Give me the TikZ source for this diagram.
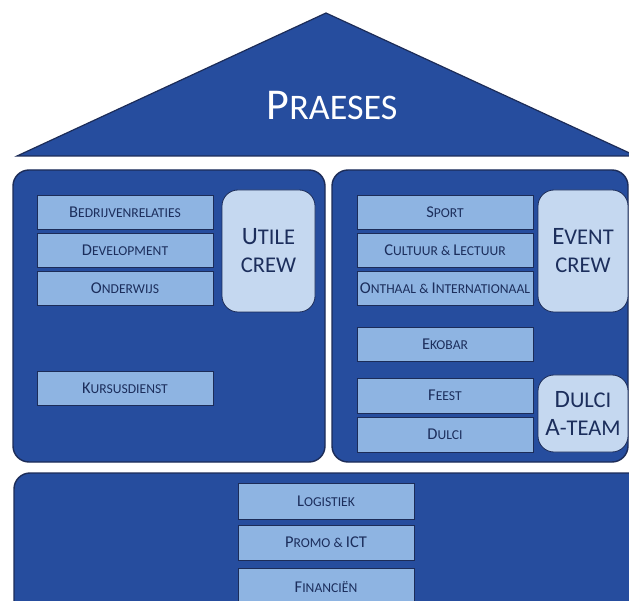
\documentclass[tikz,border=0pt]{standalone}
\usepackage{fontspec}
\setmainfont{Carlito}
\definecolor{panel}{RGB}{38,77,158}
\definecolor{edge}{RGB}{28,44,88}
\definecolor{boxfill}{RGB}{142,180,226}
\definecolor{crewfill}{RGB}{197,216,240}
\definecolor{navy}{RGB}{28,46,92}
\def\lcsz{11}
\newcommand\lc[1]{{\fontsize{\lcsz}{\lcsz}\selectfont #1}}
\tikzset{
  panelbox/.style={draw=edge, line width=1.4pt, fill=panel, rounded corners=16pt, inner sep=0pt},
  unitbox/.style={draw=edge, line width=0.8pt, fill=boxfill, inner sep=0pt,
    minimum width=176pt, minimum height=34pt, text=navy,
    font=\fontsize{16.5}{18}\selectfont\def\lcsz{13.6}},
  crewbox/.style={draw=edge, line width=0.8pt, fill=crewfill, rounded corners=16pt, inner sep=0pt,
    align=center, text=navy, font=\fontsize{25}{28}\selectfont\def\lcsz{22.5}},
}
\begin{document}
\begin{tikzpicture}[x=1pt,y=-1pt]
\useasboundingbox (0,0) rectangle (629,601);
\clip (0,0) rectangle (629,601);
\fill[white] (0,0) rectangle (629,601);
% roof
\fill[panel, draw=edge, line width=1.2pt] (17,156) -- (326,13) -- (636,156) -- cycle;
\node[text=white, font=\fontsize{44}{46}\selectfont\def\lcsz{36}] (praeses) at (332,106) {P\lc{RAESES}};
% panels
\node[panelbox, minimum width=312pt, minimum height=292pt] (left) at (169,316) {};
\node[panelbox, minimum width=296pt, minimum height=292pt] (right) at (480,316) {};
\node[panelbox, minimum width=631pt, minimum height=157pt] (bottom) at (329.5,551.5) {};
% left units
\node[unitbox] (bedr) at (125,212) {B\lc{EDRIJVENRELATIES}};
\node[unitbox] (dev)  at (125,250) {D\lc{EVELOPMENT}};
\node[unitbox] (ond)  at (125,288) {O\lc{NDERWIJS}};
\node[unitbox] (kurs) at (125,388) {K\lc{URSUSDIENST}};
\node[crewbox, minimum width=93pt, minimum height=122pt] (utile) at (268.5,251) {U\lc{TILE}\\\lc{CREW}};
% right units
\node[unitbox] (sport) at (445,212) {S\lc{PORT}};
\node[unitbox] (cult)  at (445,250) {C\lc{ULTUUR \& }L\lc{ECTUUR}};
\node[unitbox] (onth)  at (445,288) {O\lc{NTHAAL \& }I\lc{NTERNATIONAAL}};
\node[unitbox] (eko)   at (445,344) {E\lc{KOBAR}};
\node[unitbox, minimum height=35pt] (feest) at (445,395.5) {F\lc{EEST}};
\node[unitbox, minimum height=35pt] (dulci) at (445,434.5) {D\lc{ULCI}};
\node[crewbox, minimum width=90pt, minimum height=122pt] (event) at (583,251) {E\lc{VENT}\\\lc{CREW}};
\node[crewbox, minimum width=90pt, minimum height=77pt] (ateam) at (583,413.5) {D\lc{ULCI}\\A\lc{-TEAM}};
% bottom units
\node[unitbox, minimum height=36pt] (logi)  at (326,501) {L\lc{OGISTIEK}};
\node[unitbox, minimum height=35pt] (promo) at (326,542.5) {P\lc{ROMO \& }ICT};
\node[unitbox, minimum height=38pt] (fin)   at (326,587) {F\lc{INANCIËN}};
\end{tikzpicture}
\end{document}
